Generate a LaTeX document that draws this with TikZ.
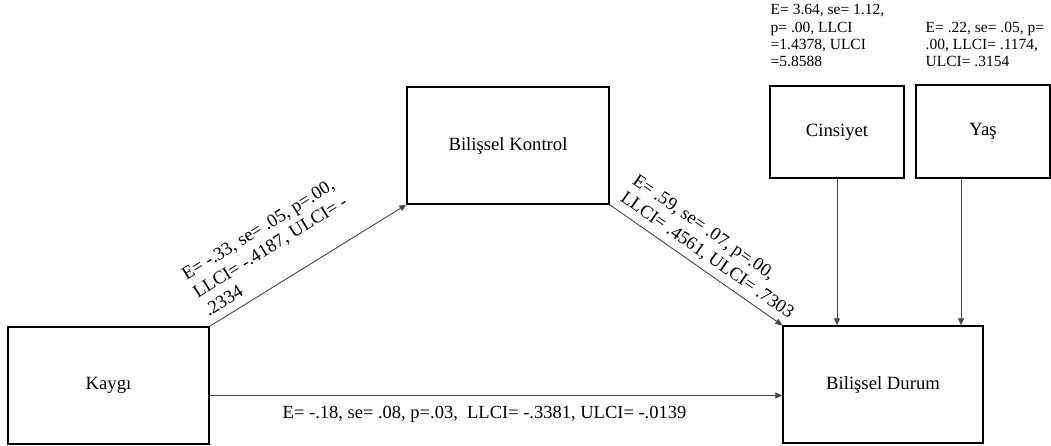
\documentclass[tikz,border=0pt]{standalone}
\usepackage{fontspec}
\setmainfont{Liberation Serif}
\usetikzlibrary{arrows.meta}
\begin{document}
\begin{tikzpicture}[x=1pt,y=-1pt,
  box/.style={draw, line width=1.4pt, inner sep=0pt, font=\fontsize{18.7}{21}\selectfont},
  arr/.style={draw=black!72, line width=0.9pt, -{Triangle[length=7pt,width=6pt]}},
  lbl/.style={font=\fontsize{18.5}{21}\selectfont, align=left, text=black},
  toplbl/.style={font=\fontsize{15.5}{17.3}\selectfont, align=left, inner sep=0pt, anchor=north west}]
\useasboundingbox (0,0) rectangle (1051,445);

\node[box, minimum width=201pt, minimum height=117pt] (K) at (108.5,385.5) {Kaygı};
\node[box, minimum width=202pt, minimum height=117pt] (BK) at (508,145.5) {Bilişsel Kontrol};
\node[box, minimum width=200pt, minimum height=117pt] (D) at (883,384.5) {Bilişsel Durum};
\node[box, minimum width=134pt, minimum height=92pt] (C) at (837,132) {Cinsiyet};
\node[box, minimum width=134pt, minimum height=93pt] (Y) at (983,131.5) {Yaş};

\node[toplbl] (lc) at (770.5,4.5) {E= 3.64, se= 1.12,\\p= .00, LLCI\\=1.4378, ULCI\\=5.8588};
\node[toplbl] (ly) at (925.5,21.5) {E= .22, se= .05, p=\\.00, LLCI= .1174,\\ULCI= .3154};

\draw[arr] (K.north east) -- (BK.south west)
  node[lbl, pos=0, anchor=south west, rotate=31.85, inner xsep=4pt, inner ysep=8pt]
  {E= -.33, se= .05, p=.00,\\LLCI= -.4187, ULCI= -\\.2334};
\draw[arr] (BK.south east) -- (D.north west)
  node[lbl, pos=0, anchor=south west, rotate=-35.04, inner xsep=5pt, inner ysep=6pt]
  {E= .59, se= .07, p=.00,\\LLCI= .4561, ULCI= .7303};
\draw[arr] ([yshift=-10pt]K.east) -- ([yshift=-10pt]K.east -| D.west)
  node[lbl, pos=0.48, anchor=base, yshift=-23pt]
  {E= -.18, se= .08, p=.03,~ LLCI= -.3381, ULCI= -.0139};
\draw[arr] (C.south) -- (C.south |- D.north);
\draw[arr] ([xshift=-22pt]Y.south) -- ([xshift=-22pt]Y.south |- D.north);
\end{tikzpicture}
\end{document}
